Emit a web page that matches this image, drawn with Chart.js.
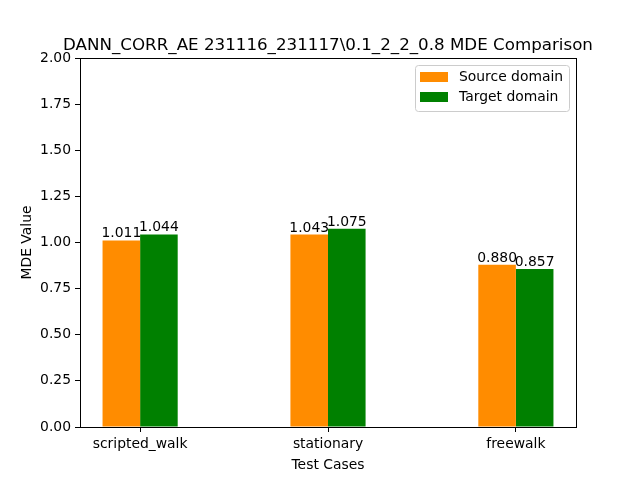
<!DOCTYPE html>
<html>
<head>
<meta charset="utf-8">
<script src="https://cdn.jsdelivr.net/npm/chart.js@4"></script>
<style>
html,body{margin:0;padding:0;background:#fff;}
#wrap{width:640px;height:480px;}
</style>
</head>
<body>
<div id="wrap"><canvas id="c" width="640" height="480"></canvas></div>
<script>
const categories = ["scripted_walk", "stationary", "freewalk"];
const sourceValues = [1.011, 1.043, 0.880];
const targetValues = [1.044, 1.075, 0.857];
const seriesNames = ["Source domain", "Target domain"];
const titleText = "DANN_CORR_AE 231116_231117\\0.1_2_2_0.8 MDE Comparison";
const xTitle = "Test Cases";
const yTitle = "MDE Value";

const FONT = "'DejaVu Sans', sans-serif";
const colors = ["#ff8c00", "#008000"];

const frameAndLabels = {
  id: 'frameAndLabels',
  afterDatasetsDraw(chart) {
    const ctx = chart.ctx;
    ctx.save();
    ctx.font = "13.9px " + FONT;
    ctx.fillStyle = "#000";
    ctx.textAlign = "center";
    ctx.textBaseline = "alphabetic";
    chart.data.datasets.forEach((ds, di) => {
      const meta = chart.getDatasetMeta(di);
      meta.data.forEach((bar, i) => {
        ctx.fillText(ds.data[i].y.toFixed(3), bar.x, bar.y - 3);
      });
    });
    ctx.restore();
  },
  afterDraw(chart) {
    const ctx = chart.ctx;
    const a = chart.chartArea;
    ctx.save();
    ctx.strokeStyle = "#000";
    ctx.lineWidth = 1;
    ctx.strokeRect(Math.round(a.left) + 0.5, Math.round(a.top) + 0.5, Math.round(a.right - a.left), Math.round(a.bottom - a.top));
    // title
    ctx.fillStyle = "#000";
    ctx.font = "16.7px " + FONT;
    ctx.textAlign = "center";
    ctx.textBaseline = "alphabetic";
    ctx.fillText(titleText, (a.left + a.right) / 2, a.top - 8);
    // legend
    const lx = a.right - 161, ly = a.top + 7, lw = 154, lh = 46;
    ctx.beginPath();
    ctx.roundRect(lx + 0.5, ly + 0.5, lw, lh, 3);
    ctx.fillStyle = "rgba(255,255,255,0.8)";
    ctx.fill();
    ctx.strokeStyle = "#cccccc";
    ctx.stroke();
    ctx.font = "13.9px " + FONT;
    ctx.textAlign = "left";
    ctx.textBaseline = "middle";
    seriesNames.forEach((n, i) => {
      const cy = ly + 12 + i * 20;
      ctx.fillStyle = colors[i];
      ctx.fillRect(lx + 5, cy - 5, 28, 10);
      ctx.fillStyle = "#000";
      ctx.fillText(n, lx + 44, cy);
    });
    ctx.restore();
  }
};

new Chart(document.getElementById('c'), {
  type: 'bar',
  data: {
    datasets: [
      { label: seriesNames[0], data: categories.map((c, i) => ({x: i, y: sourceValues[i]})), backgroundColor: colors[0], borderWidth: 0 },
      { label: seriesNames[1], data: categories.map((c, i) => ({x: i, y: targetValues[i]})), backgroundColor: colors[1], borderWidth: 0 }
    ]
  },
  options: {
    responsive: false,
    animation: false,
    categoryPercentage: 0.4,
    barPercentage: 1.0,
    layout: { padding: { top: 58, right: 64, left: 0, bottom: 0 } },
    plugins: { legend: { display: false }, title: { display: false }, tooltip: { enabled: false } },
    scales: {
      x: {
        type: 'linear',
        min: -0.32, max: 2.32,
        offset: false,
        afterBuildTicks: (s) => { s.ticks = categories.map((c, i) => ({ value: i })); },
        afterFit: (s) => { s.height = 53; },
        ticks: {
          callback: (v) => categories[v] ?? '',
          color: '#000', font: { family: FONT, size: 13.9 }, padding: 4, maxRotation: 0
        },
        grid: { drawOnChartArea: false, color: '#000', tickLength: 5, offset: false },
        border: { color: '#000' },
        title: { display: true, text: xTitle, color: '#000', font: { family: FONT, size: 13.9 }, padding: { top: 0, bottom: 6 } }
      },
      y: {
        min: 0, max: 2,
        afterBuildTicks: (s) => { const t = []; for (let k = 0; k <= 8; k++) t.push({ value: k * 0.25 }); s.ticks = t; },
        afterFit: (s) => { s.width = 80; },
        ticks: {
          callback: (v) => Number(v).toFixed(2),
          color: '#000', font: { family: FONT, size: 13.9 }, padding: 4
        },
        grid: { drawOnChartArea: false, color: '#000', tickLength: 5, offset: false },
        border: { color: '#000' },
        title: { display: true, text: yTitle, color: '#000', font: { family: FONT, size: 13.9 }, padding: { top: 19, bottom: 0 } }
      }
    }
  },
  plugins: [frameAndLabels]
});
</script>
</body>
</html>
